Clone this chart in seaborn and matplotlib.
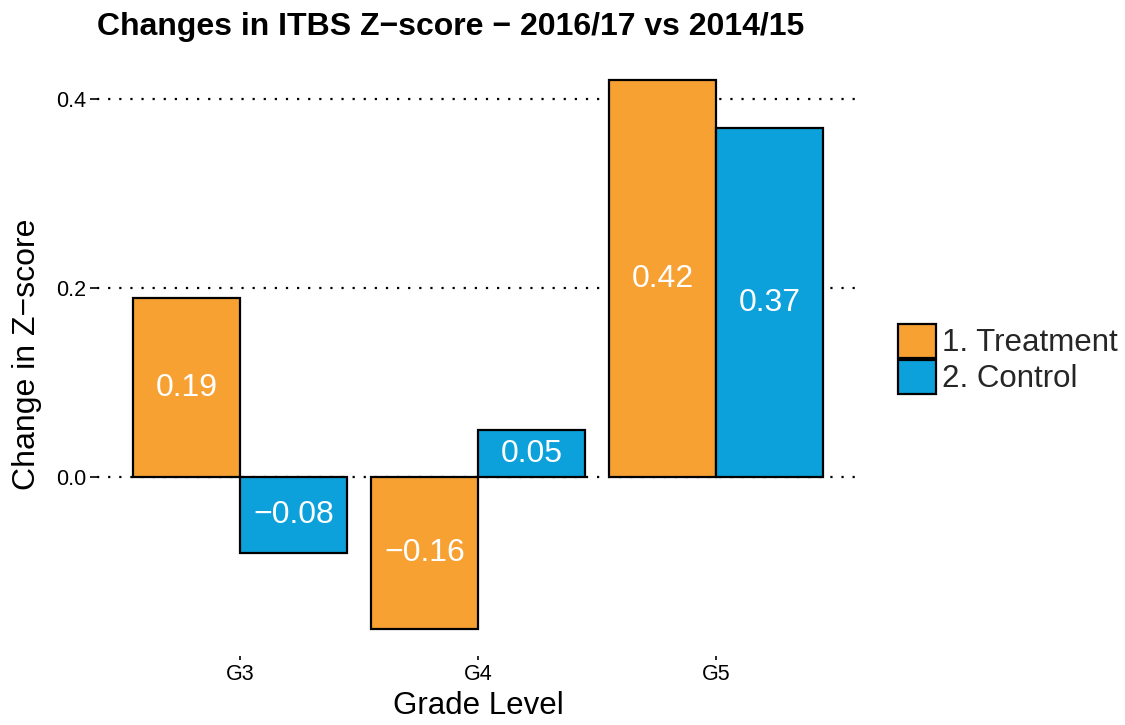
import matplotlib
matplotlib.use("Agg")
import matplotlib.pyplot as plt
import seaborn as sns
import pandas as pd
from matplotlib.patches import Patch

grades = ["G3", "G4", "G5"]
groups = ["1. Treatment", "2. Control"]
treatment = [0.19, -0.16, 0.42]
control = [-0.08, 0.05, 0.37]
labels_treatment = ["0.19", "\u22120.16", "0.42"]
labels_control = ["\u22120.08", "0.05", "0.37"]
colors = ["#F8A133", "#0CA1DB"]

df = pd.DataFrame({
    "grade": grades * 2,
    "group": [groups[0]] * 3 + [groups[1]] * 3,
    "value": treatment + control,
    "label": labels_treatment + labels_control,
})

sns.set_theme(style="white")
plt.rcParams["font.family"] = ["Liberation Sans", "DejaVu Sans"]

fig = plt.figure(figsize=(11.25, 7.25), dpi=100)
ax = fig.add_axes([97 / 1125, 69 / 725, 762 / 1125, 603 / 725])

sns.barplot(data=df, x="grade", y="value", hue="group", order=grades,
            hue_order=groups, palette=colors, width=0.9, gap=0,
            edgecolor="black", linewidth=1.6, saturation=1, ax=ax,
            legend=False, errorbar=None)

ax.set_xlim(-0.6, 2.6)
ax.set_ylim(-0.189, 0.449)
ax.set_yticks([0.0, 0.2, 0.4])
ax.set_yticklabels(["0.0", "0.2", "0.4"])
ax.yaxis.grid(True, color="black", linestyle=(0, (1, 4)), linewidth=1.6)
ax.xaxis.grid(False)
ax.set_axisbelow(True)
for s in ax.spines.values():
    s.set_visible(False)
ax.tick_params(axis="both", which="both", length=5, width=1.2, color="black",
               labelsize=15.5, labelcolor="black", pad=3)
ax.tick_params(axis="x", length=3)
ax.tick_params(left=True, bottom=True)

# value labels at mid-bar
for container, labs in zip(ax.containers, [labels_treatment, labels_control]):
    for bar, lab in zip(container, labs):
        x = bar.get_x() + bar.get_width() / 2
        y = bar.get_y() + bar.get_height() / 2
        ax.text(x, y, lab, ha="center", va="center", color="white", fontsize=23)

ax.set_xlabel("Grade Level", fontsize=22.5, color="black", labelpad=4)
ax.set_ylabel("Change in Z\u2212score", fontsize=23, color="black", labelpad=10)

fig.text(97 / 1125, 1 - 35 / 725, "Changes in ITBS Z\u2212score \u2212 2016/17 vs 2014/15",
         fontsize=23, fontweight="bold", ha="left", va="baseline", color="black")

handles = [Patch(facecolor=c, edgecolor="black", linewidth=1.6, label=g)
           for c, g in zip(colors, groups)]
fig.legend(handles=handles, loc="center left", bbox_to_anchor=(898 / 1125, 1 - 359 / 725),
           frameon=False, fontsize=22.5, handlelength=1.2, handleheight=1.3,
           handletextpad=0.2, labelspacing=0.05, borderaxespad=0, borderpad=0)

fig.savefig("out.png", dpi=100)
